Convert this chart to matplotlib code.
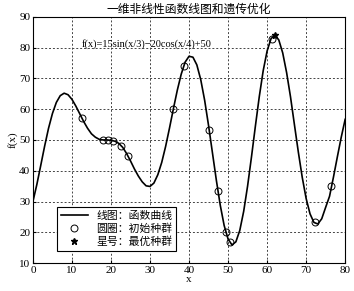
import matplotlib
matplotlib.use('Agg')
import matplotlib.pyplot as plt

plt.rcParams['font.family'] = ['Liberation Serif', 'Noto Sans CJK SC']

# curve, one value per unit of x
curve_x = list(range(0, 81))
curve_y = [30.0, 35.5, 41.7, 48.0, 53.8, 58.6, 62.2, 64.4, 65.2, 64.7,
           63.2, 61.0, 58.5, 56.0, 53.8, 52.0, 50.9, 50.2, 50.0, 50.0,
           49.9, 49.6, 48.9, 47.6, 45.6, 43.2, 40.6, 38.3, 36.4, 35.1,
           34.9, 36.0, 38.7, 42.7, 47.9, 53.9, 60.2, 66.2, 71.4, 75.3,
           77.2, 76.9, 74.4, 69.6, 62.9, 54.7, 45.8, 36.9, 28.8, 22.2,
           17.8, 15.9, 16.9, 20.6, 26.8, 35.0, 44.5, 54.5, 64.1, 72.5,
           78.9, 82.9, 84.1, 82.5, 78.3, 71.9, 64.0, 55.0, 46.1, 37.9,
           31.0, 26.0, 23.2, 22.7, 24.4, 28.1, 31.7, 37.9, 44.5, 50.9,
           56.7]

# initial population (circles)
pop_x = [12.5, 18.0, 19.3, 20.6, 22.6, 24.4, 36.0, 38.6, 45.2, 47.5,
         49.5, 50.6, 61.2, 72.3, 76.5]
pop_y = [57.0, 50.1, 50.0, 49.8, 48.0, 44.8, 60.2, 74.0, 53.3, 33.5,
         20.0, 17.0, 82.8, 23.2, 35.0]

# best individual (star)
best_x = [62.0]
best_y = [84.1]

fig = plt.figure(figsize=(3.54, 2.91), dpi=100)
ax = fig.add_axes([0.093, 0.096, 0.882, 0.846])

ax.plot(curve_x, curve_y, color='black', lw=1.2, label='线图：函数曲线')
ax.plot(pop_x, pop_y, 'o', mfc='none', mec='black', ms=5, mew=0.7,
        label='圆圈：初始种群')
ax.plot(best_x, best_y, '*', color='black', ms=4.5, label='星号：最优种群')

ax.set_xlim(0, 80)
ax.set_ylim(10, 90)
ax.set_xticks(range(0, 81, 10))
ax.set_yticks(range(10, 91, 10))
ax.tick_params(direction='in', labelsize=8, length=2, pad=2)
ax.grid(True, linestyle=(0, (2, 2)), color='#444444', lw=0.7)
for s in ax.spines.values():
    s.set_linewidth(0.8)

ax.set_title('一维非线性函数线图和遗传优化', fontsize=8.5, pad=3,
             family=['Noto Sans CJK SC'])
ax.set_xlabel('x', fontsize=8, labelpad=0)
ax.set_ylabel('f(x)', fontsize=8, labelpad=1)
ax.text(12.6, 81.3, 'f(x)=15sin(x/3)\u221220cos(x/4)+50', fontsize=7.5,
        va='center')

leg = ax.legend(loc='lower left', bbox_to_anchor=(0.077, 0.049),
                borderaxespad=0, fancybox=False,
                edgecolor='black', framealpha=1, handlelength=2.5,
                prop={'family': ['Noto Sans CJK SC'], 'size': 7.8},
                labelspacing=0.25, borderpad=0.35)
leg.get_frame().set_linewidth(0.8)

fig.savefig('out.png', dpi=100)
